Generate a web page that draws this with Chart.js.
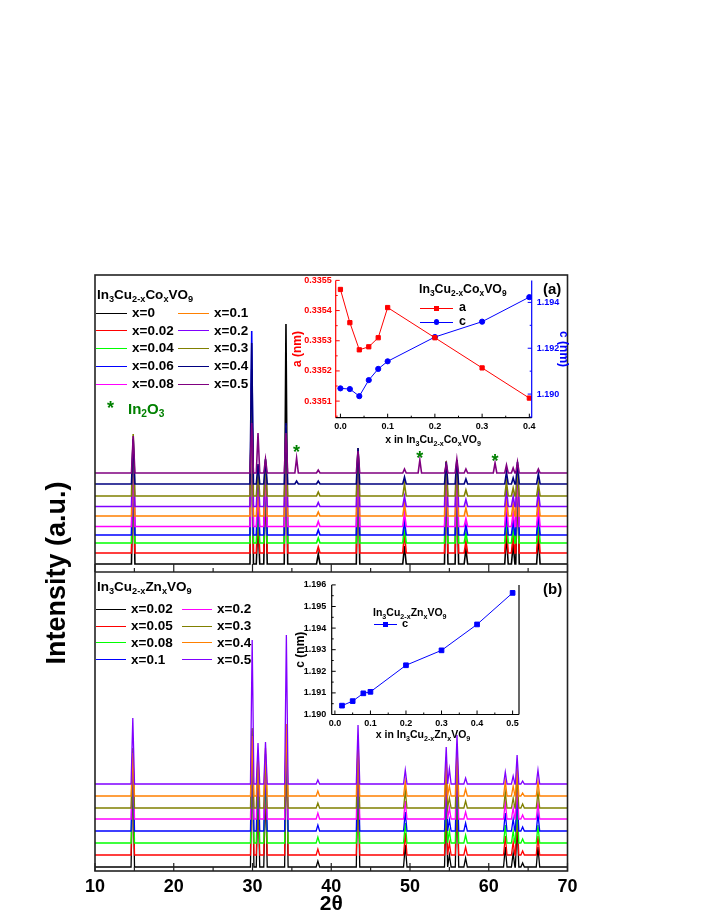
<!DOCTYPE html>
<html><head><meta charset="utf-8">
<script src="https://cdn.jsdelivr.net/npm/chart.js@4.4.1/dist/chart.umd.min.js"></script>
<style>
html,body{margin:0;padding:0;background:#fff;}
#wrap{position:relative;width:708px;height:917px;overflow:hidden;font-family:'Liberation Sans',Arial,Helvetica,sans-serif;font-weight:bold;color:#000;background:#fff;}
canvas{position:absolute;}
.t{position:absolute;white-space:nowrap;line-height:1;}
.t sub{font-size:68%;vertical-align:baseline;position:relative;top:0.32em;}
.ln{position:absolute;height:0;}
.mk{position:absolute;}
</style></head><body><div id="wrap">
<canvas id="main" width="708" height="917" style="left:0;top:0;width:708px;height:917px"></canvas>
<canvas id="insA" width="310" height="185" style="left:270px;top:270px;width:310px;height:185px"></canvas>
<canvas id="insB" width="260" height="176" style="left:280px;top:574px;width:260px;height:176px"></canvas>
</div>
<script>
const FONT = "'Liberation Sans', Arial, Helvetica, sans-serif";

// ---------- main axes ----------
const xRange = [10, 70];
const xTickLabels = [10, 20, 30, 40, 50, 60, 70];
const xTickMarks = [10, 15, 20, 25, 30, 35, 40, 45, 50, 55, 60, 65, 70];
const yRange = [0, 596];
const panelSplit = 299;

// ---------- panel (a): In3Cu2-xCoxVO9 ----------
const seriesALabels = ['x=0', 'x=0.02', 'x=0.04', 'x=0.06', 'x=0.08', 'x=0.1', 'x=0.2', 'x=0.3', 'x=0.4', 'x=0.5'];
const seriesAColors = ['#000000', '#ff0000', '#00ff00', '#0000ff', '#ff00ff', '#ff8000', '#8000ff', '#808000', '#000080', '#800080'];
const offsetsA = [307, 318, 328, 336, 344.5, 355, 364.5, 375, 387, 398];
const peakPosA = [14.85, 29.9, 30.7, 31.65, 34.25, 35.6, 38.35, 43.4, 49.3, 51.25, 54.6, 55.95, 57.1, 60.8, 62.25, 63.1, 63.65, 66.3];
const peakHeightsA = [
  [100, 195, 45, 90, 240, 0, 10, 110, 18, 0, 95, 100, 15, 0, 30, 20, 95, 28],
  [95, 170, 40, 82, 125, 0, 6, 100, 20, 0, 85, 90, 12, 0, 28, 18, 85, 26],
  [88, 160, 36, 75, 115, 0, 5, 92, 16, 0, 75, 80, 10, 0, 26, 16, 78, 24],
  [85, 204, 40, 70, 110, 0, 5, 85, 14, 0, 70, 72, 10, 0, 24, 14, 70, 22],
  [75, 140, 35, 62, 100, 0, 5, 78, 14, 0, 60, 64, 8, 0, 28, 14, 60, 20],
  [65, 125, 30, 52, 90, 0, 4, 68, 12, 0, 50, 54, 8, 0, 22, 12, 50, 18],
  [60, 115, 30, 44, 80, 0, 4, 58, 10, 0, 45, 45, 7, 0, 18, 10, 40, 15],
  [62, 105, 25, 36, 70, 0, 4, 48, 12, 0, 35, 36, 6, 0, 14, 8, 30, 12],
  [45, 141, 20, 25, 61, 3, 3, 36, 7, 0, 22, 24, 5, 0, 12, 6, 22, 10],
  [37, 50, 40, 14, 40, 15, 3, 22, 4, 13, 9, 14, 4, 10, 8, 5, 11, 4]
];
const in2o3Marks = [[35.6, 422], [51.25, 416], [60.8, 413]];

// ---------- panel (b): In3Cu2-xZnxVO9 ----------
const seriesBLabels = ['x=0.02', 'x=0.05', 'x=0.08', 'x=0.1', 'x=0.2', 'x=0.3', 'x=0.4', 'x=0.5'];
const seriesBColors = ['#000000', '#ff0000', '#00ff00', '#0000ff', '#ff00ff', '#808000', '#ff8000', '#8000ff'];
const offsetsB = [4, 16, 28, 40, 52, 63, 75, 87];
const peakPosB = [14.8, 29.96, 30.7, 31.65, 34.3, 38.3, 43.4, 49.4, 54.6, 55.0, 55.97, 57.06, 62.1, 63.1, 63.6, 64.3, 66.25];
const peakHeightsB = [
  [95, 130, 80, 82, 140, 6, 100, 22, 60, 12, 75, 9, 20, 14, 42, 4, 20],
  [88, 120, 75, 77, 128, 6, 92, 22, 56, 12, 70, 8, 19, 13, 40, 4, 19],
  [82, 110, 70, 72, 118, 6, 85, 20, 52, 12, 66, 8, 18, 12, 38, 4, 18],
  [76, 100, 65, 66, 106, 6, 78, 19, 48, 11, 62, 8, 18, 12, 36, 4, 17],
  [70, 90, 60, 60, 94, 6, 72, 18, 45, 11, 58, 7, 17, 11, 34, 4, 16],
  [60, 80, 52, 54, 84, 5, 66, 17, 42, 10, 54, 7, 16, 10, 32, 4, 16],
  [43, 60, 45, 48, 72, 5, 60, 15, 39, 10, 50, 7, 15, 10, 30, 3, 15],
  [66, 144, 41, 42, 149, 4, 59, 14, 37, 15, 49, 6, 12, 8, 29, 3, 14]
];

// ---------- inset (a) ----------
const insetAX = [0, 0.02, 0.04, 0.06, 0.08, 0.1, 0.2, 0.3, 0.4];
const insetAa = [0.33547, 0.33536, 0.33527, 0.33528, 0.33531, 0.33541, 0.33531, 0.33521, 0.33511];
const insetAc = [1.19025, 1.19022, 1.18991, 1.19061, 1.19110, 1.19143, 1.19249, 1.19316, 1.19423];
const insetAXTicks = [0, 0.1, 0.2, 0.3, 0.4];
const insetAXMinor = [0.05, 0.15, 0.25, 0.35];
const insetAaTicks = [0.3351, 0.3352, 0.3353, 0.3354, 0.3355];
const insetAaMinor = [0.33505, 0.33515, 0.33525, 0.33535, 0.33545];
const insetAcTicks = [1.190, 1.192, 1.194];
const insetAcMinor = [1.189, 1.191, 1.193];

// ---------- inset (b) ----------
const insetBX = [0.02, 0.05, 0.08, 0.1, 0.2, 0.3, 0.4, 0.5];
const insetBc = [1.19041, 1.19062, 1.19098, 1.19105, 1.19228, 1.19297, 1.19417, 1.19563];
const insetBXTicks = [0, 0.1, 0.2, 0.3, 0.4, 0.5];
const insetBXMinor = [0.05, 0.15, 0.25, 0.35, 0.45];
const insetBcTicks = [1.190, 1.191, 1.192, 1.193, 1.194, 1.195, 1.196];
const insetBcMinor = [1.1905, 1.1915, 1.1925, 1.1935, 1.1945, 1.1955];

// ================= build =================
Chart.defaults.font.family = FONT;

function buildTrace(base, positions, heights) {
  const pts = [{x: xRange[0], y: base}, {x: xRange[1], y: base}];
  positions.forEach((p, i) => {
    const h = heights[i];
    if (!h) return;
    pts.push({x: p - 0.22, y: base}, {x: p, y: base + h}, {x: p + 0.22, y: base});
  });
  pts.sort((a, b) => a.x - b.x);
  return pts;
}

const datasets = [];
seriesALabels.forEach((lab, i) => {
  datasets.push({label: 'a ' + lab, data: buildTrace(offsetsA[i], peakPosA, peakHeightsA[i]),
    borderColor: seriesAColors[i], borderWidth: 1.6, pointRadius: 0, tension: 0, order: 100 - i});
});
seriesBLabels.forEach((lab, i) => {
  datasets.push({label: 'b ' + lab, data: buildTrace(offsetsB[i], peakPosB, peakHeightsB[i]),
    borderColor: seriesBColors[i], borderWidth: 1.3, pointRadius: 0, tension: 0, order: 50 - i});
});

function seg(ctx, x1, y1, x2, y2) { ctx.beginPath(); ctx.moveTo(x1, y1); ctx.lineTo(x2, y2); ctx.stroke(); }

const mainDecor = {
  id: 'mainDecor',
  afterDatasetsDraw(chart) {
    const {ctx, chartArea: ca, scales: {x, y}} = chart;
    ctx.save();
    ctx.strokeStyle = '#222'; ctx.lineWidth = 1.6;
    ctx.strokeRect(ca.left, ca.top, ca.right - ca.left, ca.bottom - ca.top);
    const yDiv = y.getPixelForValue(panelSplit);
    seg(ctx, ca.left, yDiv, ca.right, yDiv);
    ctx.lineWidth = 1.2;
    xTickMarks.forEach(v => {
      const px = x.getPixelForValue(v);
      const len = (v % 10 === 0) ? 8 : 4;
      seg(ctx, px, ca.bottom, px, ca.bottom - len);
      seg(ctx, px, yDiv, px, yDiv - len);
    });
    ctx.fillStyle = '#008000';
    ctx.font = 'bold 18px ' + FONT;
    ctx.textAlign = 'center'; ctx.textBaseline = 'middle';
    in2o3Marks.forEach(([t, v]) => ctx.fillText('*', x.getPixelForValue(t), y.getPixelForValue(v) + 4));
    ctx.restore();
  }
};

new Chart(document.getElementById('main'), {
  type: 'line',
  data: {datasets},
  options: {
    responsive: false, animation: false, events: [],
    layout: {padding: {left: 0, right: 140.5, top: 275, bottom: 0}},
    plugins: {legend: {display: false}, tooltip: {enabled: false}},
    scales: {
      x: {type: 'linear', min: xRange[0], max: xRange[1],
        afterFit: s => { s.height = 46; },
        afterBuildTicks: s => { s.ticks = xTickLabels.map(v => ({value: v})); },
        grid: {display: false, drawTicks: false}, border: {display: false},
        ticks: {padding: 5, color: '#000', autoSkip: false, maxRotation: 0, font: {size: 18, weight: 'bold'}},
        title: {display: true, text: '2θ', color: '#000', font: {size: 21, weight: 'bold'}, padding: {top: 0, bottom: 0}}},
      y: {type: 'linear', min: yRange[0], max: yRange[1],
        afterFit: s => { s.width = 95; },
        grid: {display: false, drawTicks: false}, border: {display: false},
        ticks: {display: false},
        title: {display: true, text: 'Intensity (a.u.)', color: '#000', font: {size: 27, weight: 'bold'}, padding: {top: 41, bottom: 0}}}
    }
  },
  plugins: [mainDecor]
});

// ---------- inset helpers ----------
function insetDecor(spec) {
  return {
    id: 'insetDecor',
    afterDraw(chart) {
      const {ctx, chartArea: ca} = chart;
      ctx.save();
      spec.frame.forEach(f => {
        ctx.strokeStyle = f.color; ctx.lineWidth = 1.2;
        if (f.edge === 'left') seg(ctx, ca.left, ca.top, ca.left, ca.bottom);
        if (f.edge === 'right') seg(ctx, ca.right, ca.top, ca.right, ca.bottom);
        if (f.edge === 'bottom') seg(ctx, ca.left, ca.bottom, ca.right, ca.bottom);
      });
      spec.ticks.forEach(t => {
        const sc = chart.scales[t.scale];
        ctx.strokeStyle = t.color; ctx.lineWidth = 1;
        [[t.major, 4], [t.minor, 2]].forEach(([vals, len]) => vals.forEach(v => {
          const p = sc.getPixelForValue(v);
          if (t.edge === 'bottom') seg(ctx, p, ca.bottom, p, ca.bottom - len);
          if (t.edge === 'left') seg(ctx, ca.left, p, ca.left + len, p);
          if (t.edge === 'right') seg(ctx, ca.right, p, ca.right - len, p);
        }));
      });
      ctx.restore();
    }
  };
}
const tickFont = {size: 9, weight: 'bold'};

new Chart(document.getElementById('insA'), {
  type: 'line',
  data: {datasets: [
    {label: 'a', data: insetAX.map((v, i) => ({x: v, y: insetAa[i]})), yAxisID: 'ya',
      borderColor: '#ff0000', backgroundColor: '#ff0000', borderWidth: 1, pointStyle: 'rect', pointRadius: 3, tension: 0},
    {label: 'c', data: insetAX.map((v, i) => ({x: v, y: insetAc[i]})), yAxisID: 'yc',
      borderColor: '#0000ff', backgroundColor: '#0000ff', borderWidth: 1, pointStyle: 'circle', pointRadius: 2.6, tension: 0}
  ]},
  options: {
    responsive: false, animation: false, events: [],
    layout: {padding: {left: 0, right: 0, top: 10, bottom: 0}},
    plugins: {legend: {display: false}, tooltip: {enabled: false}},
    scales: {
      x: {type: 'linear', min: -0.01, max: 0.405,
        afterFit: s => { s.height = 37.3; },
        afterBuildTicks: s => { s.ticks = insetAXTicks.map(v => ({value: v})); },
        grid: {display: false, drawTicks: false}, border: {display: false},
        ticks: {padding: 3, color: '#000', autoSkip: false, maxRotation: 0, font: tickFont, callback: v => v.toFixed(1)}},
      ya: {type: 'linear', position: 'left', min: 0.335045, max: 0.3355,
        afterFit: s => { s.width = 65.7; },
        afterBuildTicks: s => { s.ticks = insetAaTicks.map(v => ({value: v})); },
        grid: {display: false, drawTicks: false}, border: {display: false},
        ticks: {padding: 4, color: '#ff0000', autoSkip: false, font: tickFont, callback: v => v.toFixed(4)},
        title: {display: true, text: 'a (nm)', color: '#ff0000', font: {size: 12, weight: 'bold'}, padding: {top: 20, bottom: 0}}},
      yc: {type: 'linear', position: 'right', min: 1.18897, max: 1.19496,
        afterFit: s => { s.width = 48.3; },
        afterBuildTicks: s => { s.ticks = insetAcTicks.map(v => ({value: v})); },
        grid: {display: false, drawTicks: false}, border: {display: false},
        ticks: {padding: 5, color: '#0000ff', autoSkip: false, font: tickFont, callback: v => v.toFixed(3)},
        title: {display: true, text: 'c (nm)', color: '#0000ff', font: {size: 12, weight: 'bold'}, padding: {top: 9, bottom: 0}}}
    }
  },
  plugins: [insetDecor({
    frame: [{edge: 'left', color: '#ff0000'}, {edge: 'right', color: '#0000ff'}, {edge: 'bottom', color: '#000'}],
    ticks: [
      {scale: 'x', edge: 'bottom', color: '#000', major: insetAXTicks, minor: insetAXMinor},
      {scale: 'ya', edge: 'left', color: '#ff0000', major: insetAaTicks, minor: insetAaMinor},
      {scale: 'yc', edge: 'right', color: '#0000ff', major: insetAcTicks, minor: insetAcMinor}
    ]
  })]
});

new Chart(document.getElementById('insB'), {
  type: 'line',
  data: {datasets: [
    {label: 'c', data: insetBX.map((v, i) => ({x: v, y: insetBc[i]})),
      borderColor: '#0000ff', backgroundColor: '#0000ff', borderWidth: 1, pointStyle: 'rect', pointRadius: 3.3, tension: 0}
  ]},
  options: {
    responsive: false, animation: false, events: [],
    layout: {padding: {left: 0, right: 21, top: 10, bottom: 0}},
    plugins: {legend: {display: false}, tooltip: {enabled: false}},
    scales: {
      x: {type: 'linear', min: -0.009, max: 0.518,
        afterFit: s => { s.height = 35.5; },
        afterBuildTicks: s => { s.ticks = insetBXTicks.map(v => ({value: v})); },
        grid: {display: false, drawTicks: false}, border: {display: false},
        ticks: {padding: 4, color: '#000', autoSkip: false, maxRotation: 0, font: tickFont, callback: v => v.toFixed(1)}},
      y: {type: 'linear', position: 'left', min: 1.190, max: 1.196,
        afterFit: s => { s.width = 51.7; },
        afterBuildTicks: s => { s.ticks = insetBcTicks.map(v => ({value: v})); },
        grid: {display: false, drawTicks: false}, border: {display: false},
        ticks: {padding: 5.5, color: '#000', autoSkip: false, font: tickFont, callback: v => v.toFixed(3)},
        title: {display: true, text: 'c (nm)', color: '#000', font: {size: 12, weight: 'bold'}, padding: {top: 13, bottom: 0}}}
    }
  },
  plugins: [insetDecor({
    frame: [{edge: 'left', color: '#000'}, {edge: 'right', color: '#000'}, {edge: 'bottom', color: '#000'}],
    ticks: [
      {scale: 'x', edge: 'bottom', color: '#000', major: insetBXTicks, minor: insetBXMinor},
      {scale: 'y', edge: 'left', color: '#000', major: insetBcTicks, minor: insetBcMinor}
    ]
  })]
});

// ================= HTML text / legends =================
const wrap = document.getElementById('wrap');
function addText(html, left, cy, size, color, center) {
  const d = document.createElement('div');
  d.className = 't';
  d.innerHTML = html;
  d.style.fontSize = size + 'px';
  d.style.left = left + 'px';
  d.style.top = (cy - size * 0.55) + 'px';
  d.style.color = color || '#000';
  if (center) d.style.transform = 'translateX(-50%)';
  wrap.appendChild(d);
  return d;
}
function addLine(x1, x2, y, color, w) {
  const d = document.createElement('div');
  d.className = 'ln';
  d.style.left = x1 + 'px'; d.style.width = (x2 - x1) + 'px';
  d.style.top = (y - w / 2) + 'px';
  d.style.borderTop = w + 'px solid ' + color;
  wrap.appendChild(d);
}
function addMarker(cx, cy, size, color, round) {
  const d = document.createElement('div');
  d.className = 'mk';
  d.style.left = (cx - size / 2) + 'px'; d.style.top = (cy - size / 2) + 'px';
  d.style.width = size + 'px'; d.style.height = size + 'px';
  d.style.background = color;
  if (round) d.style.borderRadius = '50%';
  wrap.appendChild(d);
}

const coFormula = 'In<sub>3</sub>Cu<sub>2-x</sub>Co<sub>x</sub>VO<sub>9</sub>';
const znFormula = 'In<sub>3</sub>Cu<sub>2-x</sub>Zn<sub>x</sub>VO<sub>9</sub>';

// main legend (a)
addText(coFormula, 97, 295, 13.5);
seriesALabels.forEach((lab, i) => {
  const col = Math.floor(i / 5), row = i % 5;
  const cy = 313.3 + row * 17.75;
  const lx = col === 0 ? 96 : 178;
  addLine(lx, lx + 31, cy, seriesAColors[i], 1.6);
  addText(lab, lx + 36, cy, 13.5);
});
addText('*', 107, 409, 18, '#008000');
addText('In<sub>2</sub>O<sub>3</sub>', 128, 409, 15, '#008000');

// main legend (b)
addText(znFormula, 97, 587, 13.5);
seriesBLabels.forEach((lab, i) => {
  const col = Math.floor(i / 4), row = i % 4;
  const cy = 609.3 + row * 16.9;
  const lx = col === 0 ? 96 : 182;
  addLine(lx, lx + 30, cy, seriesBColors[i], 1.4);
  addText(lab, lx + 35, cy, 13.5);
});

addText('(a)', 543, 289, 15);
addText('(b)', 543, 589.5, 15);

// inset (a) legend and x title
addText(coFormula, 419, 290, 12.3);
addLine(420, 453, 308.3, '#ff0000', 1);
addMarker(436.7, 308.3, 5, '#ff0000', false);
addText('a', 459, 308.3, 12.5);
addLine(420, 453, 322, '#0000ff', 1);
addMarker(436.7, 322, 5.5, '#0000ff', true);
addText('c', 459, 322, 12.5);
addText('x in ' + coFormula, 433, 440, 10.5, '#000', true);

// inset (b) legend and x title
addText(znFormula, 373, 613, 10.5);
addLine(374, 397, 624, '#0000ff', 1);
addMarker(385.5, 624, 5, '#0000ff', false);
addText('c', 402, 624, 11);
addText('x in ' + znFormula, 423, 735, 10.5, '#000', true);
</script>
</body></html>
